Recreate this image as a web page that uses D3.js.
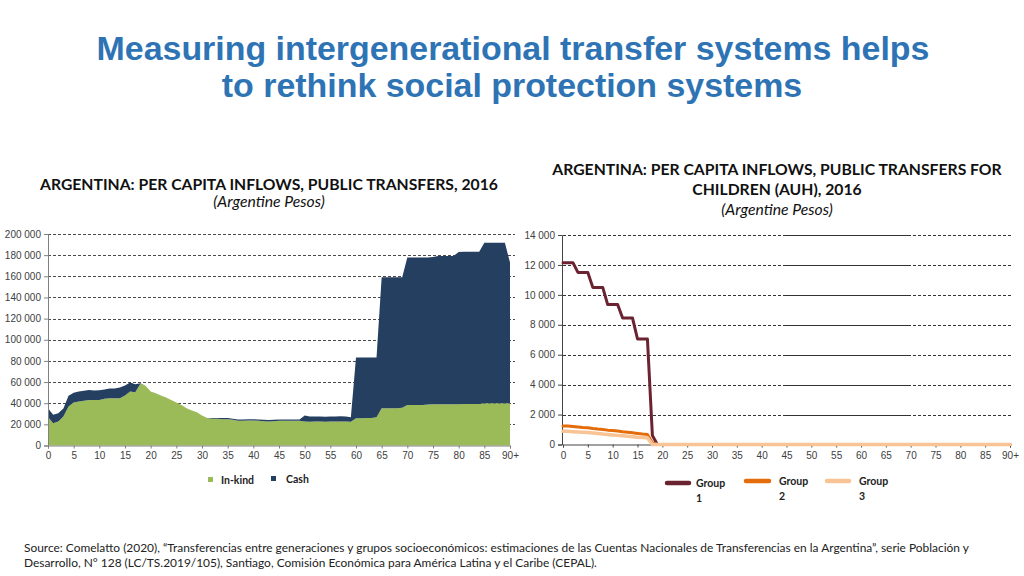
<!DOCTYPE html>
<html>
<head>
<meta charset="utf-8">
<script src="https://cdn.jsdelivr.net/npm/d3@7"></script>
<style>
  html, body { margin: 0; padding: 0; background: #fff; }
  svg { display: block; }
</style>
</head>
<body>
<svg id="chart" width="1024" height="576"></svg>
<script>
// ---------------- DATA ----------------
const titleLines = ["Measuring intergenerational transfer systems helps", "to rethink social protection systems"];
const leftTitle = ["ARGENTINA: PER CAPITA INFLOWS, PUBLIC TRANSFERS, 2016"];
const rightTitle = ["ARGENTINA: PER CAPITA INFLOWS, PUBLIC TRANSFERS FOR", "CHILDREN (AUH), 2016"];
const unitLabel = "(Argentine Pesos)";
const sourceLines = [
  "Source: Comelatto (2020), \u201cTransferencias entre generaciones y grupos socioecon\u00f3micos: estimaciones de las Cuentas Nacionales de Transferencias en la Argentina\u201d, serie Poblaci\u00f3n y",
  "Desarrollo, N\u00b0 128 (LC/TS.2019/105), Santiago, Comisi\u00f3n Econ\u00f3mica para Am\u00e9rica Latina y el Caribe (CEPAL)."
];

const ages = [0,1,2,3,4,5,6,7,8,9,10,11,12,13,14,15,16,17,18,19,20,21,22,23,24,25,26,27,28,29,30,31,32,33,34,35,36,37,38,39,40,41,42,43,44,45,46,47,48,49,50,51,52,53,54,55,56,57,58,59,60,61,62,63,64,65,66,67,68,69,70,71,72,73,74,75,76,77,78,79,80,81,82,83,84,85,86,87,88,89,90];
const xTickValues = [0,5,10,15,20,25,30,35,40,45,50,55,60,65,70,75,80,85,90];
const xTickLabels = ["0","5","10","15","20","25","30","35","40","45","50","55","60","65","70","75","80","85","90+"];

const leftYTicks = [0,20000,40000,60000,80000,100000,120000,140000,160000,180000,200000];
const rightYTicks = [0,2000,4000,6000,8000,10000,12000,14000];

// Left chart: public transfers (stacked)
const inKind = [27000,21000,22700,27400,36800,40600,41600,42200,43100,43100,
  43100,44100,44700,44700,44700,47200,51000,50400,58300,56400,
  51000,49400,47200,45400,43100,40600,38400,35300,33100,31500,
  28400,26100,25200,25200,24900,24900,24300,23300,23300,23600,
  23600,23300,23000,22700,23000,23300,23300,23300,23300,23300,
  22700,22400,22700,22700,22400,22700,22700,22700,22700,22400,
  25800,25800,26100,26100,26800,35300,35300,35300,35300,35600,
  38400,38400,38400,38400,38700,39000,39000,39000,39000,39000,
  39000,39300,39300,39300,39300,40000,40000,40000,40000,40000,40000];
const cash = [8300,8000,7800,7600,10200,9400,9400,9500,9400,8900,
  9200,8900,9100,9100,10100,9500,8500,7600,600,0,
  0,0,0,0,0,0,0,0,0,0,
  0,0,800,900,1000,1000,1100,1200,1200,1200,
  1300,1400,1400,1400,1400,1300,1300,1300,1300,1400,
  5700,5000,4800,4800,4900,4800,4800,4900,4800,4400,
  57400,57400,57100,57100,56400,123700,123700,123700,123700,123400,
  139300,139300,139300,139300,139000,139300,140200,140200,140200,140200,
  144000,144000,144000,144000,144000,151800,151800,151800,151800,151800,133000];

// Right chart: AUH by socioeconomic group
const group1 = [12150,12150,12150,11500,11500,11500,10500,10500,10500,9350,
  9350,9350,8450,8450,8450,7050,7050,7050,600,0,
  0,0,0,0,0,0,0,0,0,0,0,0,0,0,0,0,0,0,0,0,0,0,0,0,0,0,0,0,0,0,
  0,0,0,0,0,0,0,0,0,0,0,0,0,0,0,0,0,0,0,0,0,0,0,0,0,0,0,0,0,0,0,0,0,0,0,0,0,0,0,0,0];
const group2 = [1230,1230,1200,1170,1140,1120,1070,1030,1000,960,
  930,900,850,820,780,740,700,670,100,0,
  0,0,0,0,0,0,0,0,0,0,0,0,0,0,0,0,0,0,0,0,0,0,0,0,0,0,0,0,0,0,
  0,0,0,0,0,0,0,0,0,0,0,0,0,0,0,0,0,0,0,0,0,0,0,0,0,0,0,0,0,0,0,0,0,0,0,0,0,0,0,0,0];
const group3 = [890,880,860,840,820,800,770,740,700,670,
  640,610,580,550,520,490,470,450,0,0,
  0,0,0,0,0,0,0,0,0,0,0,0,0,0,0,0,0,0,0,0,0,0,0,0,0,0,0,0,0,0,
  0,0,0,0,0,0,0,0,0,0,0,0,0,0,0,0,0,0,0,0,0,0,0,0,0,0,0,0,0,0,0,0,0,0,0,0,0,0,0,0,0];

const leftLegend = ["In-kind", "Cash"];
const rightLegend = ["Group 1", "Group 2", "Group 3"];

// ---------------- STYLE ----------------
const C = {
  title: "#2E74B5",
  green: "#9BBB59",
  navy: "#243F60",
  g1: "#6B2331",
  g2: "#E46C0A",
  g3: "#F8C496",
  grid: "#4a4a4a",
  axis: "#808080",
  text: "#404040"
};
const calibri = "Lato, 'Open Sans', sans-serif";
const arial = "'Liberation Sans', Arial, sans-serif";

const svg = d3.select("#chart");

function fit(sel, width) {
  const len = sel.node().getComputedTextLength();
  const fs = parseFloat(sel.attr("font-size"));
  return fs * width / len;
}

// ---------------- TITLE ----------------
const t1 = svg.append("text").attr("x", 513).attr("y", 60).attr("text-anchor", "middle")
  .attr("font-family", arial).attr("font-weight", "bold").attr("font-size", 30)
  .attr("fill", C.title).text(titleLines[0]);
const tfs = fit(t1, 833);
t1.attr("font-size", tfs);
svg.append("text").attr("x", 512).attr("y", 97).attr("text-anchor", "middle")
  .attr("font-family", arial).attr("font-weight", "bold").attr("font-size", tfs)
  .attr("fill", C.title).text(titleLines[1]);

// ---------------- SUBTITLES ----------------
const lt = svg.append("text").attr("x", 269).attr("y", 190).attr("text-anchor", "middle")
  .attr("font-family", calibri).attr("font-weight", "bold").attr("font-size", 14)
  .attr("fill", "#111").text(leftTitle[0]);
const sfs = fit(lt, 458);
lt.attr("font-size", sfs);
svg.append("text").attr("x", 269).attr("y", 207).attr("text-anchor", "middle")
  .attr("font-family", calibri).attr("font-style", "italic").attr("font-size", sfs)
  .attr("fill", "#111").text(unitLabel);

rightTitle.forEach((s, i) => {
  svg.append("text").attr("x", 777).attr("y", 175 + i * 20).attr("text-anchor", "middle")
    .attr("font-family", calibri).attr("font-weight", "bold").attr("font-size", sfs)
    .attr("fill", "#111").text(s);
});
svg.append("text").attr("x", 777).attr("y", 215).attr("text-anchor", "middle")
  .attr("font-family", calibri).attr("font-style", "italic").attr("font-size", sfs)
  .attr("fill", "#111").text(unitLabel);

// ---------------- LEFT CHART ----------------
const xL = d3.scaleLinear().domain([0, 90]).range([48, 510]);
const yL = d3.scaleLinear().domain([0, 200000]).range([445.5, 234]);
const fmt = v => d3.format(",")(v).replace(/,/g, " ");

const gL = svg.append("g");
gL.selectAll("line.grid").data(leftYTicks.filter(v => v > 0)).join("line")
  .attr("x1", xL(0)).attr("x2", 515)
  .attr("y1", d => Math.round(yL(d)) + 0.5).attr("y2", d => Math.round(yL(d)) + 0.5)
  .attr("stroke", C.grid).attr("stroke-width", 1).attr("stroke-dasharray", "3,2");

const stackData = ages.map((a, i) => ({ age: a, inKind: inKind[i], cash: cash[i] }));
const series = d3.stack().keys(["inKind", "cash"])(stackData);
const area = d3.area().x(d => xL(d.data.age)).y0(d => yL(d[0])).y1(d => yL(d[1]));
gL.selectAll("path.area").data(series).join("path")
  .attr("d", area)
  .attr("fill", d => d.key === "inKind" ? C.green : C.navy);

const yAxisL = d3.axisLeft(yL).tickValues(leftYTicks).tickFormat(fmt).tickSize(4).tickPadding(3);
const ga = gL.append("g").attr("transform", `translate(${xL(0)},0)`).call(yAxisL);
const xAxisL = d3.axisBottom(xL).tickValues(xTickValues).tickFormat((d, i) => xTickLabels[i]).tickSize(3).tickPadding(3);
const gx = gL.append("g").attr("transform", `translate(0,${yL(0)})`).call(xAxisL);
[ga, gx].forEach(g => {
  g.select(".domain").attr("stroke", C.axis);
  g.selectAll(".tick line").attr("stroke", C.axis);
  g.selectAll(".tick text").attr("font-family", arial).attr("font-size", 10).attr("fill", C.text);
});

const legL = [
  { label: leftLegend[0], color: C.green, x: 208, tx: 221 },
  { label: leftLegend[1], color: C.navy, x: 271, tx: 286 }
];
legL.forEach((d, i) => {
  svg.append("rect").attr("x", d.x).attr("y", i === 0 ? 477 : 476).attr("width", 5).attr("height", 5).attr("fill", d.color);
  svg.append("text").attr("x", d.tx).attr("y", i === 0 ? 484 : 483)
    .attr("font-family", calibri).attr("font-weight", "bold").attr("font-size", 10.5)
    .attr("fill", "#222").text(d.label);
});

// ---------------- RIGHT CHART ----------------
const xR = d3.scaleLinear().domain([0, 90]).range([563, 1010]);
const yR = d3.scaleLinear().domain([0, 14000]).range([444.5, 235]);
const gR = svg.append("g");
gR.selectAll("line.grid").data(rightYTicks.filter(v => v > 0)).join("line")
  .attr("x1", xR(0)).attr("x2", 1013)
  .attr("y1", d => Math.round(yR(d)) + 0.5).attr("y2", d => Math.round(yR(d)) + 0.5)
  .attr("stroke", "#333").attr("stroke-width", 1).attr("stroke-dasharray", "3,2");
gR.selectAll("line.solid").data(rightYTicks.filter(v => v > 0)).join("line")
  .attr("x1", xR(44.3)).attr("x2", xR(70))
  .attr("y1", d => Math.round(yR(d)) + 0.5).attr("y2", d => Math.round(yR(d)) + 0.5)
  .attr("stroke", "#333").attr("stroke-width", 1);

const yAxisR = d3.axisLeft(yR).tickValues(rightYTicks).tickFormat(fmt).tickSize(4).tickPadding(3);
const gya = gR.append("g").attr("transform", `translate(${xR(0) - 1},0)`).call(yAxisR);
const xAxisR = d3.axisBottom(xR).tickValues(xTickValues).tickFormat((d, i) => xTickLabels[i]).tickSize(3).tickPadding(4);
const gxa = gR.append("g").attr("transform", `translate(0,${yR(0)})`).call(xAxisR);
[gya, gxa].forEach(g => {
  g.select(".domain").attr("stroke", "#444");
  g.selectAll(".tick line").attr("stroke", "#444");
  g.selectAll(".tick text").attr("font-family", arial).attr("font-size", 10).attr("fill", C.text);
});

const lineR = d3.line().x((d, i) => xR(ages[i])).y(d => yR(d));
const groups = [
  { vals: group1, color: C.g1, w: 3 },
  { vals: group2, color: C.g2, w: 3 },
  { vals: group3, color: C.g3, w: 3.5 }
];
groups.forEach(g => {
  gR.append("path").attr("d", lineR(g.vals)).attr("fill", "none")
    .attr("stroke", g.color).attr("stroke-width", g.w)
    .attr("stroke-linejoin", "round").attr("stroke-linecap", "round");
});

const legR = [
  { color: C.g1, x1: 667, x2: 689, ly: 483, tx: 696, ty: 487 },
  { color: C.g2, x1: 746, x2: 769, ly: 481, tx: 779, ty: 485 },
  { color: C.g3, x1: 827, x2: 849, ly: 481, tx: 859, ty: 485 }
];
legR.forEach((d, i) => {
  svg.append("line").attr("x1", d.x1).attr("x2", d.x2).attr("y1", d.ly).attr("y2", d.ly)
    .attr("stroke", d.color).attr("stroke-width", 4.5).attr("stroke-linecap", "round");
  const parts = rightLegend[i].split(" ");
  parts.forEach((p, j) => {
    svg.append("text").attr("x", d.tx).attr("y", d.ty + j * 15)
      .attr("font-family", calibri).attr("font-weight", "bold").attr("font-size", 10.5)
      .attr("fill", "#222").text(p);
  });
});

// ---------------- SOURCE ----------------
const s1 = svg.append("text").attr("x", 24).attr("y", 552)
  .attr("font-family", calibri).attr("font-size", 11).attr("fill", "#222").text(sourceLines[0]);
const srcfs = fit(s1, 946);
s1.attr("font-size", srcfs);
svg.append("text").attr("x", 24).attr("y", 567)
  .attr("font-family", calibri).attr("font-size", srcfs).attr("fill", "#222").text(sourceLines[1]);
</script>
</body>
</html>
